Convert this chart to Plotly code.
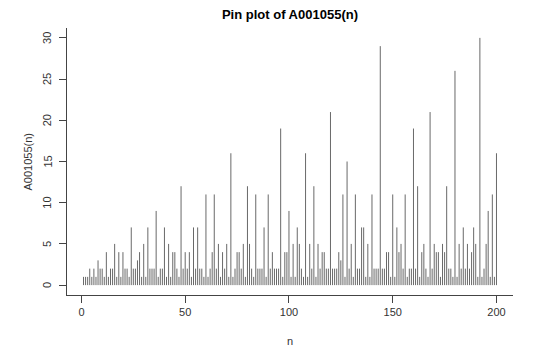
import plotly.graph_objects as go

n_values = list(range(1, 201))
a_values = [
    1, 1, 1, 2, 1, 2, 1, 3, 2, 2, 1, 4, 1, 2, 2, 5, 1, 4, 1, 4,
    2, 2, 1, 7, 2, 2, 3, 4, 1, 5, 1, 7, 2, 2, 2, 9, 1, 2, 2, 7,
    1, 5, 1, 4, 4, 2, 1, 12, 2, 4, 2, 4, 1, 7, 2, 7, 2, 2, 1, 11,
    1, 2, 4, 11, 2, 5, 1, 4, 2, 5, 1, 16, 1, 2, 4, 4, 2, 5, 1, 12,
    5, 2, 1, 11, 2, 2, 2, 7, 1, 11, 2, 4, 2, 2, 2, 19, 1, 4, 4, 9,
    1, 5, 1, 7, 5, 2, 1, 16, 1, 5, 2, 12, 1, 5, 2, 4, 4, 2, 2, 21,
    2, 2, 2, 4, 3, 11, 1, 15, 2, 5, 1, 11, 2, 2, 7, 7, 1, 5, 1, 11,
    2, 2, 2, 29, 2, 2, 4, 4, 1, 11, 1, 7, 4, 5, 2, 11, 1, 2, 2, 19,
    2, 12, 1, 4, 5, 2, 1, 21, 2, 5, 4, 4, 1, 5, 4, 12, 2, 2, 1, 26,
    1, 5, 2, 7, 2, 5, 2, 4, 7, 5, 1, 30, 1, 2, 5, 9, 1, 11, 1, 16,
]
x_ticks = [0, 50, 100, 150, 200]
y_ticks = [0, 5, 10, 15, 20, 25, 30]

xs, ys = [], []
for n, a in zip(n_values, a_values):
    xs += [n, n, None]
    ys += [0, a, None]

fig = go.Figure()
fig.add_trace(go.Scatter(x=xs, y=ys, mode="lines",
                         line=dict(color="rgb(105,105,105)", width=1),
                         hoverinfo="skip", showlegend=False))

font = dict(family="Liberation Sans, Arial, sans-serif", size=11, color="#333333")
axis_common = dict(showgrid=False, zeroline=False, showline=True, linecolor="#444444",
                   linewidth=1, ticks="outside", ticklen=7, tickcolor="#444444",
                   tickfont=font, mirror=False)
fig.update_xaxes(range=[-6.96, 207.96], tickvals=x_ticks, ticktext=[str(v) for v in x_ticks],
                 **axis_common)
fig.update_yaxes(range=[-1.2, 31.2], tickvals=y_ticks, showticklabels=False, **axis_common)

annotations = [
    dict(text="n", xref="paper", yref="paper", x=0.5, y=-46/267, xanchor="center",
         yanchor="middle", showarrow=False, font=font),
    dict(text="A001055(n)", xref="paper", yref="paper", x=-40/446, y=0.5,
         xanchor="center", yanchor="middle", textangle=-90, showarrow=False, font=font),
]
for v in y_ticks:
    annotations.append(dict(text=str(v), xref="paper", yref="y", x=-20/446, y=v,
                            xanchor="center", yanchor="middle", textangle=-90,
                            showarrow=False, font=font))

fig.update_layout(
    width=542, height=355,
    margin=dict(l=67, r=29, t=28, b=60, pad=0),
    plot_bgcolor="white", paper_bgcolor="white",
    font=font,
    title=dict(text="<b>Pin plot of A001055(n)</b>", x=0.535, xanchor="center",
               y=1 - 14/355, yanchor="middle",
               font=dict(family="Liberation Sans, Arial, sans-serif", size=13, color="#000000")),
    annotations=annotations,
)

fig.write_html("out.html")
